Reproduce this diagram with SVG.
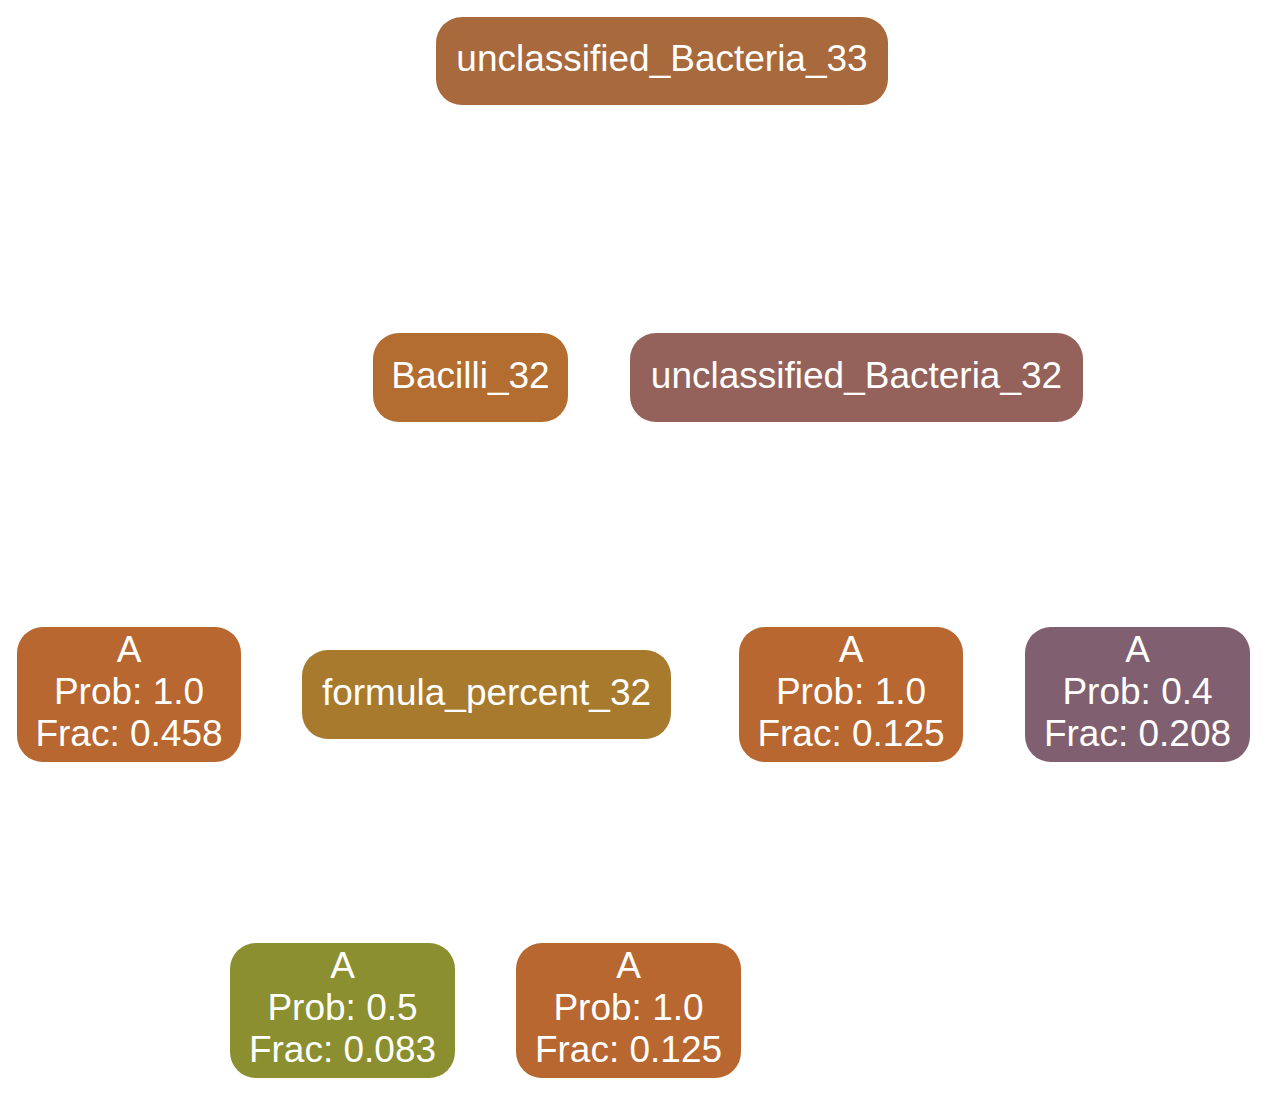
<svg xmlns="http://www.w3.org/2000/svg" width="1267" height="1096" viewBox="0 0 1267 1096">
<style>
  .n rect { stroke: none; }
  .n text { font-family: "Liberation Sans", Arial, Helvetica, sans-serif; font-size: 37px; fill: #ffffff; text-anchor: middle; }
</style>
<rect x="0" y="0" width="1267" height="1096" fill="#ffffff"/>
<g id="connectors"></g>
<g id="unclassified_Bacteria_33" class="n">
  <rect x="436" y="17" width="452" height="88" rx="26" ry="26" fill="#a8693d"/>
  <text x="662" y="71">unclassified_Bacteria_33</text>
</g>
<g id="Bacilli_32" class="n">
  <rect x="373" y="333" width="195" height="89" rx="26" ry="26" fill="#b36d30"/>
  <text x="470.5" y="388">Bacilli_32</text>
</g>
<g id="unclassified_Bacteria_32" class="n">
  <rect x="630" y="333" width="453" height="89" rx="26" ry="26" fill="#94625a"/>
  <text x="856.5" y="388">unclassified_Bacteria_32</text>
</g>
<g id="A_1" class="n">
  <rect x="17" y="627" width="224" height="135" rx="26" ry="26" fill="#b7672f"/>
  <text x="129" y="662">A</text>
  <text x="129" y="704">Prob: 1.0</text>
  <text x="129" y="746">Frac: 0.458</text>
</g>
<g id="formula_percent_32" class="n">
  <rect x="302" y="650" width="369" height="89" rx="26" ry="26" fill="#a87a2e"/>
  <text x="486.5" y="705">formula_percent_32</text>
</g>
<g id="A_2" class="n">
  <rect x="739" y="627" width="224" height="135" rx="26" ry="26" fill="#b7672f"/>
  <text x="851" y="662">A</text>
  <text x="851" y="704">Prob: 1.0</text>
  <text x="851" y="746">Frac: 0.125</text>
</g>
<g id="A_3" class="n">
  <rect x="1025" y="627" width="225" height="135" rx="26" ry="26" fill="#805f70"/>
  <text x="1137.5" y="662">A</text>
  <text x="1137.5" y="704">Prob: 0.4</text>
  <text x="1137.5" y="746">Frac: 0.208</text>
</g>
<g id="A_4" class="n">
  <rect x="230" y="943" width="225" height="135" rx="26" ry="26" fill="#8b8f2f"/>
  <text x="342.5" y="978">A</text>
  <text x="342.5" y="1020">Prob: 0.5</text>
  <text x="342.5" y="1062">Frac: 0.083</text>
</g>
<g id="A_5" class="n">
  <rect x="516" y="943" width="225" height="135" rx="26" ry="26" fill="#b7672f"/>
  <text x="628.5" y="978">A</text>
  <text x="628.5" y="1020">Prob: 1.0</text>
  <text x="628.5" y="1062">Frac: 0.125</text>
</g>
</svg>
